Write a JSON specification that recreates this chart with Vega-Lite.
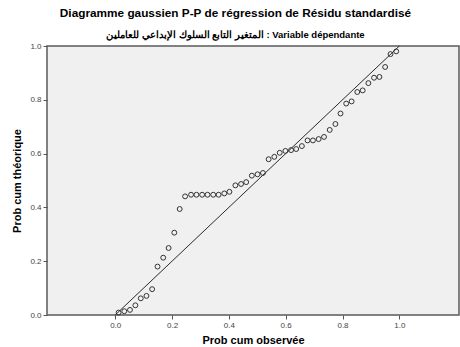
{
  "$schema": "https://vega.github.io/schema/vega-lite/v6.json",
  "width": 412,
  "height": 269,
  "autosize": {"type": "none"},
  "padding": {"left": 47, "top": 46, "right": 1, "bottom": 32},
  "background": "white",
  "title": {
    "text": "Diagramme gaussien P-P de régression de Résidu standardisé",
    "subtitle": "المتغير التابع السلوك الإبداعي للعاملين : Variable dépendante",
    "font": "Liberation Sans",
    "fontSize": 11.8,
    "fontWeight": "bold",
    "color": "#000000",
    "subtitleFont": "Liberation Sans",
    "subtitleFontSize": 9.5,
    "subtitleFontWeight": "bold",
    "subtitleColor": "#000000",
    "subtitlePadding": 10,
    "anchor": "middle",
    "frame": "bounds",
    "offset": 3
  },
  "datasets": {
    "pts": [
      {"obs": 0.012, "theo": 0.009},
      {"obs": 0.032, "theo": 0.014},
      {"obs": 0.052, "theo": 0.019},
      {"obs": 0.071, "theo": 0.036},
      {"obs": 0.090, "theo": 0.062},
      {"obs": 0.110, "theo": 0.071},
      {"obs": 0.130, "theo": 0.096},
      {"obs": 0.149, "theo": 0.180},
      {"obs": 0.169, "theo": 0.213},
      {"obs": 0.188, "theo": 0.249},
      {"obs": 0.208, "theo": 0.306},
      {"obs": 0.227, "theo": 0.394},
      {"obs": 0.246, "theo": 0.441},
      {"obs": 0.267, "theo": 0.447},
      {"obs": 0.286, "theo": 0.447},
      {"obs": 0.306, "theo": 0.447},
      {"obs": 0.325, "theo": 0.447},
      {"obs": 0.345, "theo": 0.447},
      {"obs": 0.364, "theo": 0.447},
      {"obs": 0.384, "theo": 0.452},
      {"obs": 0.402, "theo": 0.458},
      {"obs": 0.423, "theo": 0.482},
      {"obs": 0.443, "theo": 0.487},
      {"obs": 0.461, "theo": 0.494},
      {"obs": 0.481, "theo": 0.518},
      {"obs": 0.501, "theo": 0.523},
      {"obs": 0.520, "theo": 0.528},
      {"obs": 0.540, "theo": 0.579},
      {"obs": 0.560, "theo": 0.588},
      {"obs": 0.579, "theo": 0.603},
      {"obs": 0.599, "theo": 0.610},
      {"obs": 0.619, "theo": 0.613},
      {"obs": 0.637, "theo": 0.617},
      {"obs": 0.657, "theo": 0.628},
      {"obs": 0.677, "theo": 0.649},
      {"obs": 0.696, "theo": 0.649},
      {"obs": 0.716, "theo": 0.654},
      {"obs": 0.735, "theo": 0.662},
      {"obs": 0.755, "theo": 0.688},
      {"obs": 0.775, "theo": 0.710},
      {"obs": 0.793, "theo": 0.749},
      {"obs": 0.813, "theo": 0.786},
      {"obs": 0.832, "theo": 0.794},
      {"obs": 0.852, "theo": 0.829},
      {"obs": 0.871, "theo": 0.835},
      {"obs": 0.891, "theo": 0.862},
      {"obs": 0.911, "theo": 0.882},
      {"obs": 0.930, "theo": 0.885},
      {"obs": 0.950, "theo": 0.922},
      {"obs": 0.969, "theo": 0.970},
      {"obs": 0.989, "theo": 0.980}
    ],
    "diag": [
      {"obs": 0, "theo": 0},
      {"obs": 1, "theo": 1}
    ]
  },
  "encoding": {
    "x": {
      "field": "obs",
      "type": "quantitative",
      "scale": {"domain": [-0.24, 1.21], "nice": false, "zero": false},
      "axis": {"title": "Prob cum observée", "values": [0, 0.2, 0.4, 0.6, 0.8, 1.0], "format": ".1f", "titlePadding": 5}
    },
    "y": {
      "field": "theo",
      "type": "quantitative",
      "scale": {"domain": [0, 1], "nice": false, "zero": false},
      "axis": {"title": "Prob cum théorique", "values": [0, 0.2, 0.4, 0.6, 0.8, 1.0], "format": ".1f", "titlePadding": 7}
    }
  },
  "layer": [
    {
      "data": {"name": "diag"},
      "mark": {"type": "line", "color": "#2a2a2a", "strokeWidth": 1}
    },
    {
      "data": {"name": "pts"},
      "mark": {"type": "point", "shape": "circle", "filled": false, "stroke": "#333333", "strokeWidth": 1, "size": 24, "opacity": 1}
    }
  ],
  "config": {
    "view": {"stroke": "#5a5a5a", "strokeWidth": 1.5, "fill": "#f0f0f0"},
    "axis": {
      "domain": false,
      "grid": false,
      "labelFont": "Liberation Sans",
      "labelFontSize": 8,
      "labelColor": "#444444",
      "labelFlush": false,
      "labelPadding": 2,
      "tickColor": "#555555",
      "tickSize": 4,
      "titleFont": "Liberation Sans",
      "titleFontSize": 11,
      "titleFontWeight": "bold",
      "titleColor": "#000000"
    }
  }
}
